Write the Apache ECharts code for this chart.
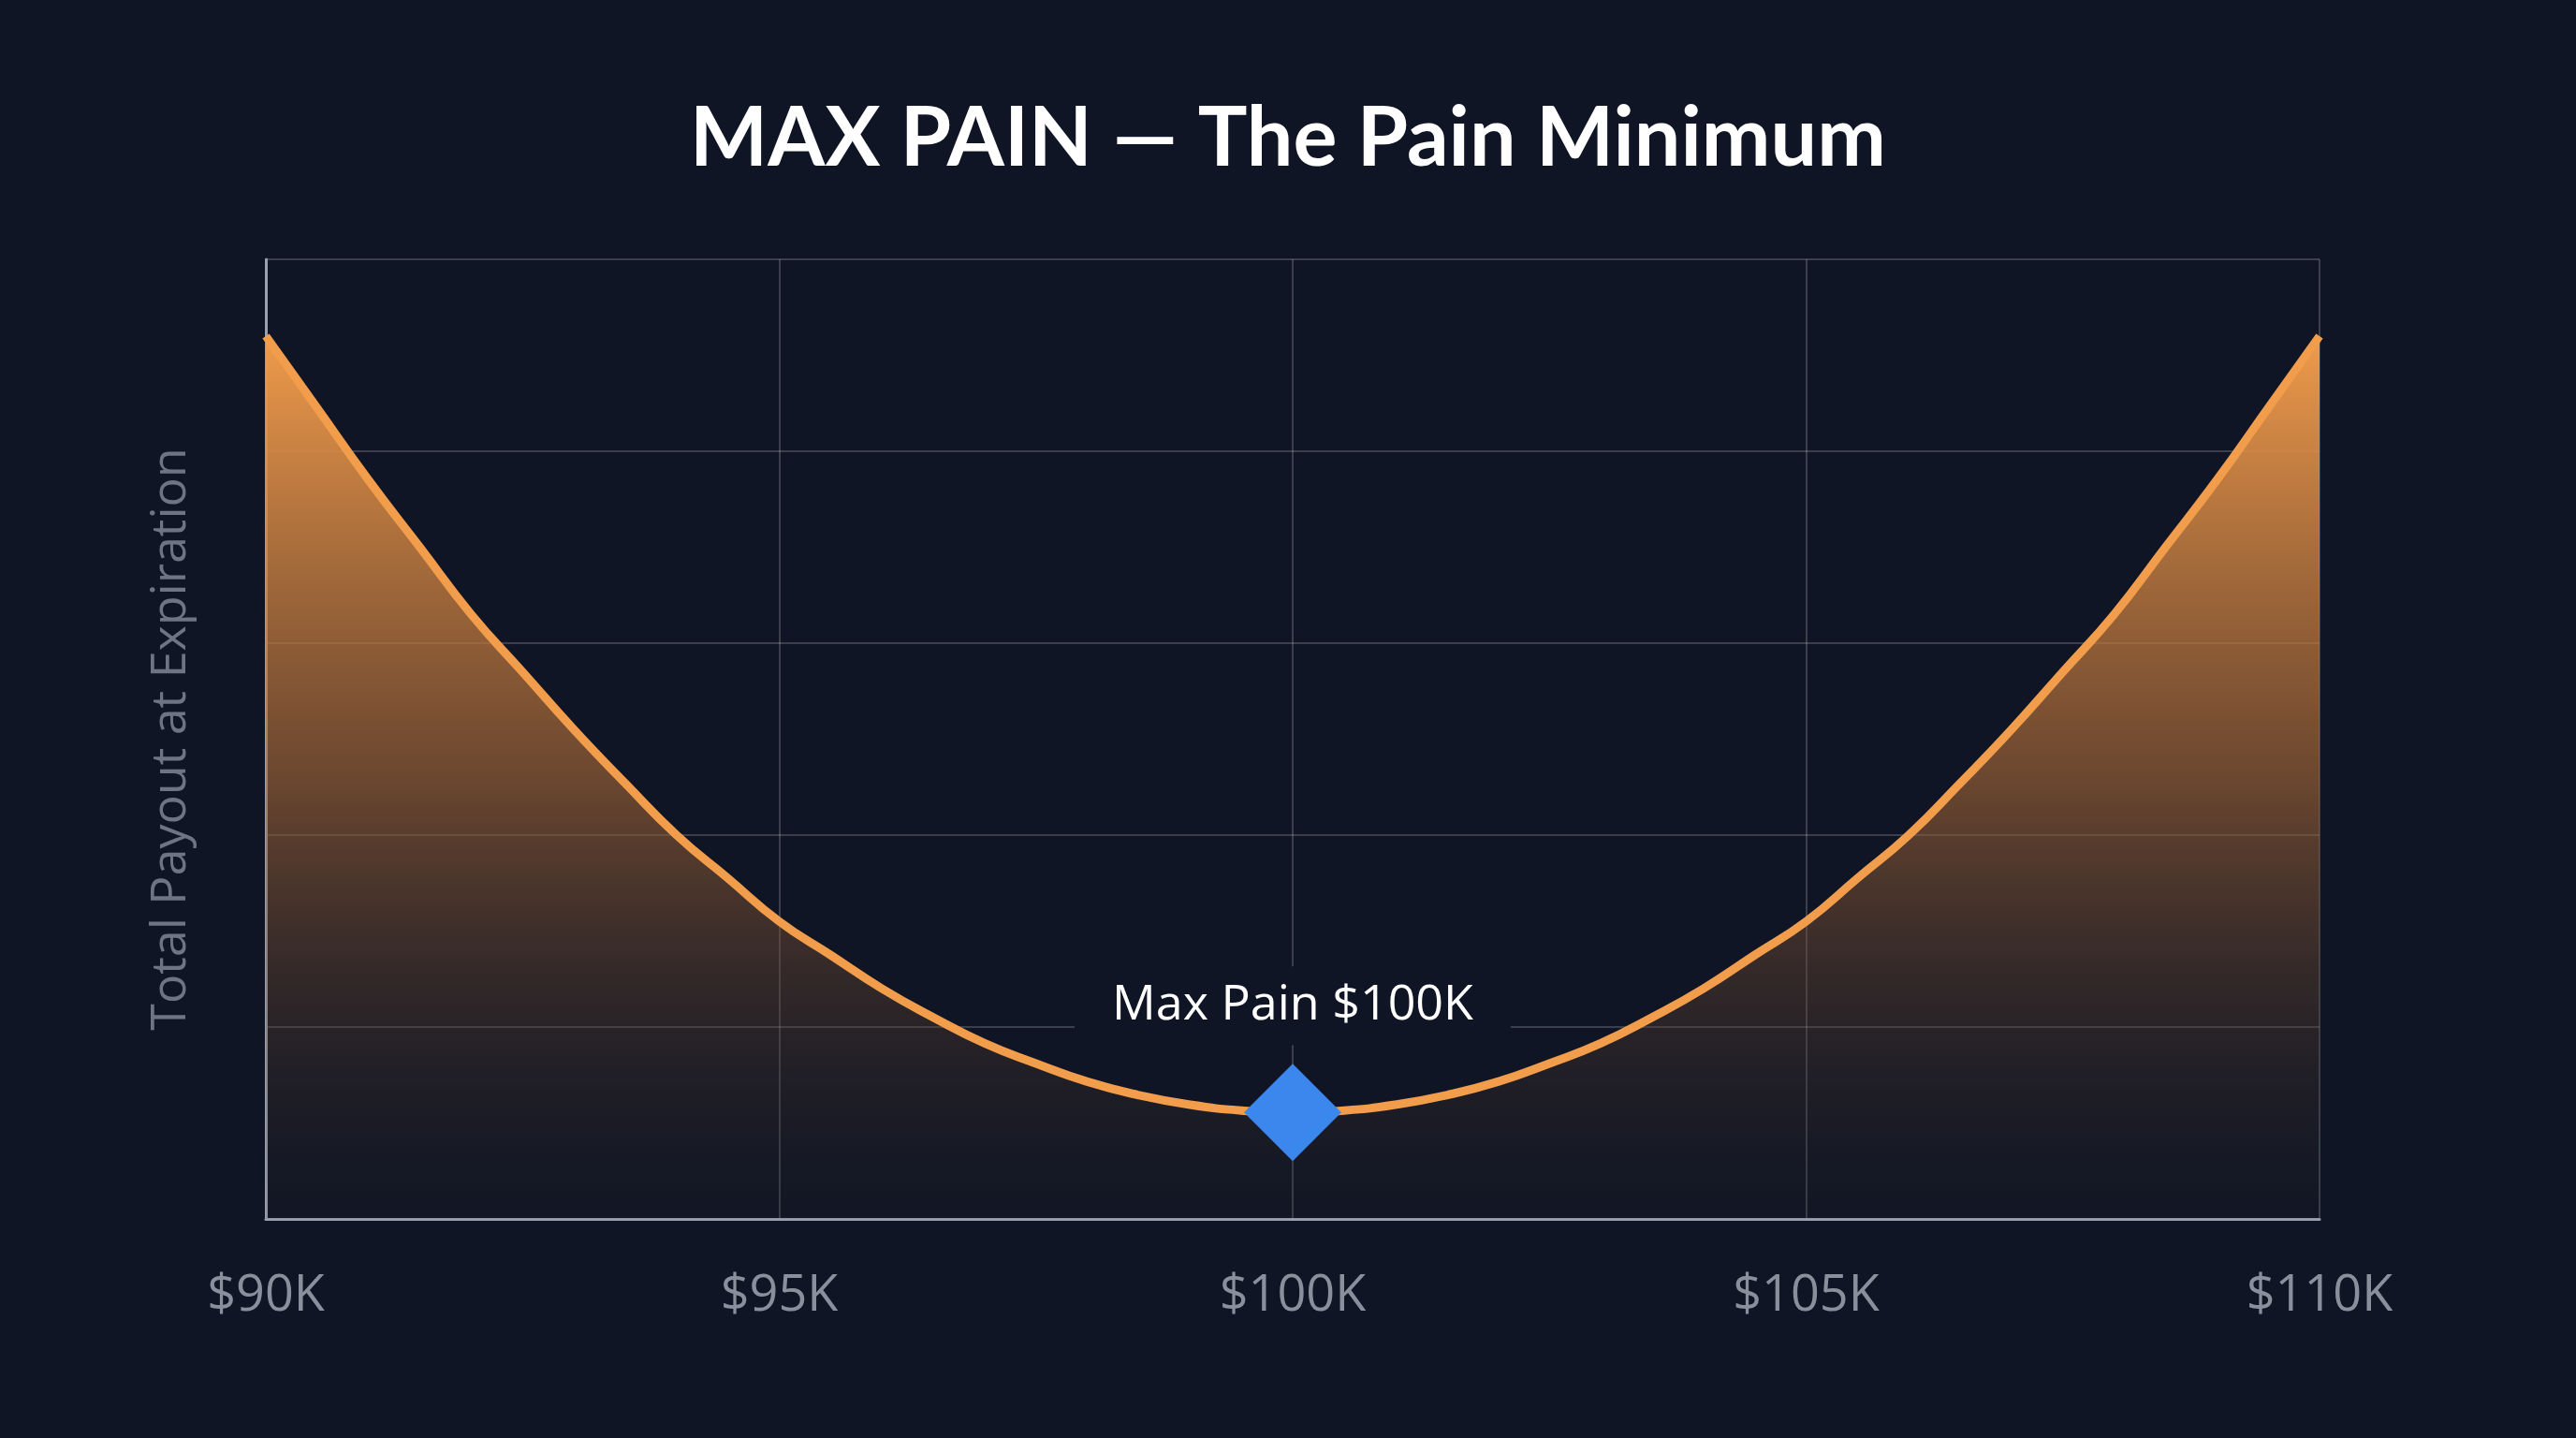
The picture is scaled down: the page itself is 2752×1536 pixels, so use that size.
<!DOCTYPE html>
<html><head><meta charset="utf-8">
<script src="https://cdn.jsdelivr.net/npm/echarts@6/dist/echarts.min.js"></script>
<style>html,body{margin:0;padding:0;background:#0f1524;}#c{width:2752px;height:1536px;}</style>
</head><body><div id="c"></div>
<script>
const strikes = [90,90.5,91,91.5,92,92.5,93,93.5,94,94.5,95,95.5,96,96.5,97,97.5,98,98.5,99,99.5,100,100.5,101,101.5,102,102.5,103,103.5,104,104.5,105,105.5,106,106.5,107,107.5,108,108.5,109,109.5,110];
const payout = [92,84.5,77,70,63,57,51,45.4,40,35.5,31,27.5,24,21,18.3,16.2,14.3,12.9,11.9,11.3,11.1,11.3,11.9,12.9,14.3,16.2,18.3,21,24,27.5,31,35.5,40,45.4,51,57,63,70,77,84.5,92];
const xTicks = [90,95,100,105,110];
const maxPainStrike = 100;
const maxPainLabel = 'Max Pain $100K';

const chart = echarts.init(document.getElementById('c'));
chart.setOption({
  backgroundColor:'#0f1524',
  title:{text:'MAX PAIN — The Pain Minimum',left:'center',top:100,
    textStyle:{color:'#ffffff',fontSize:88,fontWeight:'bold',fontFamily:'Lato'}},
  grid:{left:284,right:274,top:277,bottom:234},
  xAxis:{type:'value',min:90,max:110,interval:5,
    axisLine:{show:true,lineStyle:{color:'#9aa0ad',width:3}},
    axisTick:{show:false},
    splitLine:{show:true,lineStyle:{color:'rgba(255,255,255,0.18)',width:2}},
    axisLabel:{color:'#8a8f9c',fontSize:54,fontFamily:'Open Sans',margin:56,
      formatter:v=>xTicks.includes(v)?'$'+v+'K':'',
      rich:{}}},
  yAxis:{type:'value',min:0,max:100,interval:20,
    name:'Total Payout at Expiration',nameLocation:'middle',nameGap:75,
    nameTextStyle:{color:'#6f7482',fontSize:52,fontFamily:'Open Sans'},
    axisLine:{show:true,lineStyle:{color:'#9aa0ad',width:3}},
    axisTick:{show:false},axisLabel:{show:false},
    splitLine:{lineStyle:{color:'rgba(255,255,255,0.18)',width:2}}},
  series:[{type:'line',smooth:true,symbol:'none',
    data:strikes.map((s,i)=>[s,payout[i]]),
    lineStyle:{color:'#f29d4b',width:9},
    areaStyle:{opacity:1,color:new echarts.graphic.LinearGradient(0,0,0,1,[
      {offset:0,color:'rgba(240,155,75,1)'},
      {offset:0.5,color:'rgba(170,105,55,0.6)'},
      {offset:1,color:'rgba(40,35,40,0.1)'}])},
    z:2},
   {type:'scatter',symbol:'diamond',symbolSize:[104,104],
    data:[[maxPainStrike,payout[strikes.indexOf(maxPainStrike)]]],
    itemStyle:{color:'#3b87ee',opacity:1},z:5,
    label:{show:true,position:'top',distance:20,formatter:maxPainLabel,
      color:'#ffffff',fontSize:52,fontFamily:'Open Sans',
      backgroundColor:'#0f1524',padding:[16,40]}}]
});
</script></body></html>
